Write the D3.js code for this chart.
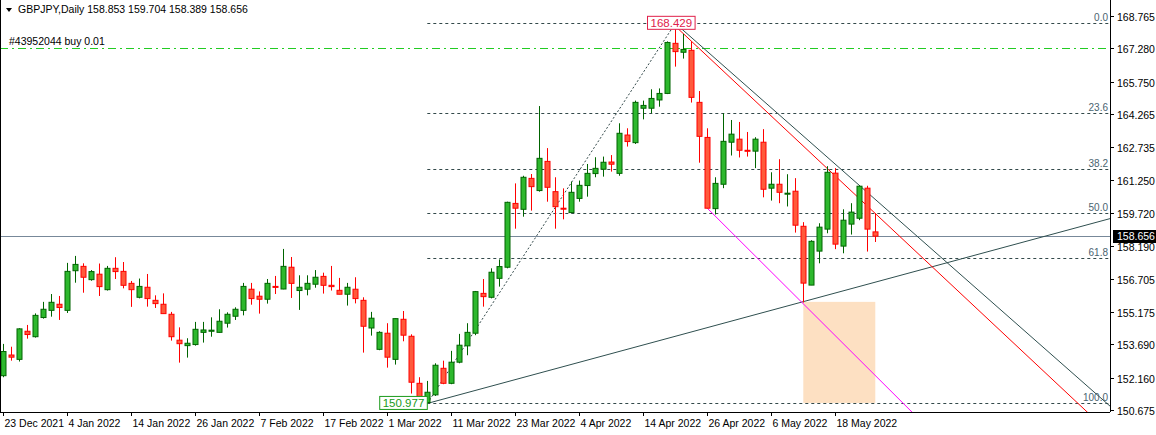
<!DOCTYPE html>
<html>
<head>
<meta charset="utf-8">
<script src="https://cdn.jsdelivr.net/npm/d3@7"></script>
<style>
  body { margin: 0; background: #fff; }
  svg { font-family: "Liberation Sans", Arial, sans-serif; font-size: 10.5px; }
</style>
</head>
<body>
<svg id="chart" width="1156" height="435"></svg>
<script>
// daily candles, 23 Dec 2021 .. 25 May 2022
var opens  = [152.25,153.20,153.00,154.29,154.04,154.92,155.25,155.53,155.25,157.07,157.27,156.66,156.91,156.20,157.18,157.04,156.49,155.85,156.31,155.71,
              155.53,155.07,153.88,153.63,153.68,154.24,154.29,154.24,154.66,154.98,155.25,156.22,155.90,155.76,156.35,156.23,157.23,156.16,156.22,156.45,
              156.81,156.40,156.17,155.99,156.22,155.71,154.44,153.46,154.20,153.00,154.84,154.06,151.90,151.02,151.37,152.59,151.90,152.87,153.62,154.20,
              156.03,155.85,156.72,157.23,160.16,159.89,161.31,160.75,162.09,160.70,159.94,159.74,160.39,160.98,161.53,161.73,162.06,161.54,163.30,162.95,
              164.53,164.53,164.91,165.21,167.51,167.10,167.19,164.80,163.19,159.92,161.04,162.97,163.11,162.60,162.56,162.97,160.86,161.04,160.63,160.72,
              159.11,156.41,157.97,158.98,161.55,158.20,159.21,159.48,160.86,158.853];
var highs  = [153.71,153.58,154.43,154.58,155.11,155.64,156.00,155.91,157.43,157.75,157.41,157.10,157.40,157.29,157.69,157.47,156.60,156.71,156.92,155.94,
              156.03,155.18,154.47,153.97,154.72,154.72,154.93,155.30,155.16,155.39,156.51,156.51,156.12,156.69,156.83,158.07,157.70,156.86,156.86,157.10,
              156.98,157.29,156.74,156.51,156.77,155.85,155.18,154.29,154.66,154.88,155.22,154.15,152.18,152.01,152.82,152.94,153.39,154.17,154.66,156.14,
              156.69,157.18,157.59,160.24,161.08,161.43,161.51,164.63,162.70,161.36,160.85,161.16,161.21,161.97,162.28,162.31,162.38,163.84,163.61,164.88,
              164.88,165.40,165.44,167.60,168.429,167.94,167.60,165.32,163.61,161.36,164.30,163.99,163.90,163.44,163.20,163.57,161.59,162.19,161.50,161.32,
              159.30,158.47,159.25,161.87,161.78,159.89,160.17,160.99,160.97,159.704];
var lows   = [152.18,152.94,152.90,153.95,154.00,154.87,154.96,154.81,155.13,156.52,156.06,156.61,155.91,156.16,156.69,156.26,155.41,155.80,155.42,155.36,
              155.10,153.86,152.85,153.08,153.63,153.77,154.04,154.23,154.46,154.81,155.02,155.51,155.10,155.56,156.00,156.22,155.82,155.27,155.94,156.29,
              156.02,156.16,155.99,155.47,155.57,153.31,154.09,153.42,152.62,152.76,153.83,151.43,150.977,150.98,151.32,151.86,151.86,152.82,153.19,154.11,
              155.42,155.80,156.34,157.18,159.00,159.55,159.83,160.70,160.24,159.00,159.43,159.71,160.24,160.47,161.36,161.39,161.62,161.43,162.77,162.89,
              164.02,164.30,164.60,165.18,166.44,166.81,164.79,162.03,159.94,159.65,160.86,162.36,162.27,162.31,161.78,160.44,160.29,160.17,160.02,158.82,
              155.61,156.41,157.41,158.79,158.06,157.87,158.73,159.39,157.95,158.389];
var closes = [153.36,153.10,154.40,154.14,155.02,155.30,155.62,155.38,157.04,157.36,156.77,157.03,156.34,157.18,157.03,156.40,156.20,156.35,155.79,155.56,
              155.10,154.04,153.72,153.74,154.38,154.35,154.34,154.75,155.07,155.30,156.35,155.79,155.76,156.49,156.34,157.27,156.49,156.31,156.49,156.77,
              156.40,156.34,155.99,156.31,155.79,154.52,154.89,154.24,153.10,154.87,154.11,151.95,151.06,151.49,152.73,151.90,152.87,153.65,154.24,156.11,
              155.88,157.00,157.26,160.21,159.94,161.36,160.93,162.23,160.90,160.01,159.91,160.67,160.99,161.54,161.77,162.05,161.96,163.38,163.00,164.80,
              164.66,164.98,165.21,167.55,167.13,167.23,165.03,163.24,159.94,161.08,163.01,163.34,162.60,162.57,163.11,160.81,161.04,160.67,160.63,159.16,
              156.50,158.42,159.07,161.59,158.29,159.39,159.76,160.95,158.98,158.656];

var dateLabels = ["23 Dec 2021","4 Jan 2022","14 Jan 2022","26 Jan 2022","7 Feb 2022","17 Feb 2022","1 Mar 2022",
                  "11 Mar 2022","23 Mar 2022","4 Apr 2022","14 Apr 2022","26 Apr 2022","6 May 2022","18 May 2022"];
var priceTicks = [168.765,167.280,165.750,164.265,162.735,161.250,159.720,158.190,156.705,155.175,153.690,152.160,150.675];

var fibLevels = [0, 23.6, 38.2, 50.0, 61.8, 100];
var fibHigh = 168.429, fibLow = 150.977;
var buyPrice = 167.280, lastPrice = 158.656;

var svg = d3.select("#chart");
var right = 1110, bottom = 412;

var x = d3.scaleLinear().domain([0, 109]).range([3.3, 875.3]);
var y = d3.scaleLinear().domain([150.675, 168.765]).range([410, 16]);

var plot = svg.append("g");

// frame
svg.append("line").attr("x1", right + 0.5).attr("x2", right + 0.5).attr("y1", 0).attr("y2", bottom).attr("stroke", "#000");
svg.append("line").attr("x1", 0).attr("x2", right).attr("y1", bottom + 0.5).attr("y2", bottom + 0.5).attr("stroke", "#000");
svg.append("line").attr("x1", 0.5).attr("x2", 0.5).attr("y1", 0).attr("y2", bottom).attr("stroke", "#000");

// rectangle
plot.append("rect")
  .attr("x", x(100)).attr("width", x(109) - x(100))
  .attr("y", y(155.64)).attr("height", y(151.0) - y(155.64))
  .attr("fill", "#fde0c2");

// fibonacci
var fibX0 = x(53);
fibLevels.forEach(function(l){
  var p = fibHigh - (fibHigh - fibLow) * l / 100;
  plot.append("line").attr("x1", fibX0).attr("x2", right).attr("y1", Math.round(y(p)) + 0.5).attr("y2", Math.round(y(p)) + 0.5)
    .attr("stroke", "#33494a").attr("stroke-dasharray", "3,3");
  plot.append("text").attr("x", right - 2).attr("y", Math.round(y(p)) - 2).attr("text-anchor", "end")
    .attr("fill", "#4a6470").attr("font-size", 10).text(l.toFixed(1));
});
plot.append("line").attr("x1", x(53)).attr("y1", y(fibLow)).attr("x2", x(84)).attr("y2", y(fibHigh))
  .attr("stroke", "#33494a").attr("stroke-dasharray", "2,2");

// buy line and last price line
plot.append("line").attr("x1", 0).attr("x2", right).attr("y1", Math.round(y(buyPrice)) + 0.5).attr("y2", Math.round(y(buyPrice)) + 0.5)
  .attr("stroke", "#22cc22").attr("stroke-dasharray", "8,4,2,4");
plot.append("line").attr("x1", 0).attr("x2", right).attr("y1", Math.round(y(lastPrice)) + 0.5).attr("y2", Math.round(y(lastPrice)) + 0.5)
  .attr("stroke", "#778899");

// trend lines: [i0, p0, i1, p1, colour]
var trends = [
  [53, 150.977, 100, 155.65, "#2f4f4f"],
  [84, 168.429, 107, 160.99, "#2f4f4f"],
  [84, 168.30, 101, 162.45, "#ff0000"],
  [88, 159.94, 100, 155.55, "#ff00ff"]
];
svg.append("clipPath").attr("id", "pc").append("rect").attr("x", 0).attr("y", 0).attr("width", right).attr("height", bottom);
trends.forEach(function(t){
  var slope = (t[3] - t[1]) / (t[2] - t[0]);
  var iEnd = 150;
  plot.append("line").attr("clip-path", "url(#pc)")
    .attr("x1", x(t[0])).attr("y1", y(t[1]))
    .attr("x2", x(iEnd)).attr("y2", y(t[1] + slope * (iEnd - t[0])))
    .attr("stroke", t[4]).attr("stroke-width", 1);
});

// candles
var data = opens.map(function(o, i){ return {i: i, o: o, h: highs[i], l: lows[i], c: closes[i]}; });
var cg = plot.selectAll("g.candle").data(data).enter().append("g").attr("class", "candle");
cg.append("line")
  .attr("x1", function(d){ return Math.round(x(d.i)) + 0.5; })
  .attr("x2", function(d){ return Math.round(x(d.i)) + 0.5; })
  .attr("y1", function(d){ return y(d.h); }).attr("y2", function(d){ return y(d.l); })
  .attr("stroke", function(d){ return d.c >= d.o ? "#006400" : "#ff0000"; });
cg.append("rect")
  .attr("x", function(d){ return Math.round(x(d.i)) - 2; })
  .attr("width", 5)
  .attr("y", function(d){ return y(Math.max(d.o, d.c)); })
  .attr("height", function(d){ return Math.max(1, Math.abs(y(d.o) - y(d.c))); })
  .attr("fill", function(d){ return d.c >= d.o ? "#2db82d" : "#ff5a3c"; })
  .attr("stroke", function(d){ return d.c >= d.o ? "#006400" : "#ff0000"; });

// price labels on extremes
function boxLabel(txt, xr, p, col, anchorRight){
  var g = svg.append("g");
  var t = g.append("text").attr("font-size", 11.5).attr("fill", col).text(txt);
  var w = t.node().getBBox().width + 6;
  var bx = anchorRight ? xr - w : xr - w / 2;
  g.append("rect").attr("x", bx).attr("y", y(p) - 7).attr("width", w).attr("height", 13)
    .attr("fill", "#fff").attr("stroke", col);
  t.raise().attr("x", bx + 3).attr("y", y(p) + 4);
}
boxLabel("168.429", x(84) - 4, fibHigh, "#e0204a", false);
boxLabel("150.977", x(53), fibLow, "#1a9a1a", true);

// right price axis
var ya = svg.append("g");
priceTicks.forEach(function(p){
  var yy = Math.round(y(p)) + 0.5;
  ya.append("line").attr("x1", right).attr("x2", right + 4).attr("y1", yy).attr("y2", yy).attr("stroke", "#000");
  ya.append("text").attr("x", right + 7).attr("y", yy + 4).attr("fill", "#000").text(p.toFixed(3));
});
var ly = Math.round(y(lastPrice));
ya.append("rect").attr("x", right + 3).attr("y", ly - 6).attr("width", 44).attr("height", 13).attr("fill", "#000");
ya.append("text").attr("x", right + 7).attr("y", ly + 4).attr("fill", "#fff").text(lastPrice.toFixed(3));

// bottom date axis
dateLabels.forEach(function(lbl, k){
  var xx = Math.round(x(k * 8)) + 0.5;
  svg.append("line").attr("x1", xx).attr("x2", xx).attr("y1", bottom).attr("y2", bottom + 4).attr("stroke", "#000");
  svg.append("text").attr("x", xx + 1).attr("y", 427).attr("fill", "#000").text(lbl);
});

// header texts
svg.append("path").attr("d", "M6,8 L12,8 L9,12 Z").attr("fill", "#000");
svg.append("text").attr("x", 18).attr("y", 13).attr("fill", "#000").text("GBPJPY,Daily  158.853 159.704 158.389 158.656");
svg.append("text").attr("x", 9).attr("y", 45).attr("fill", "#000").text("#43952044 buy 0.01");
</script>
</body>
</html>
